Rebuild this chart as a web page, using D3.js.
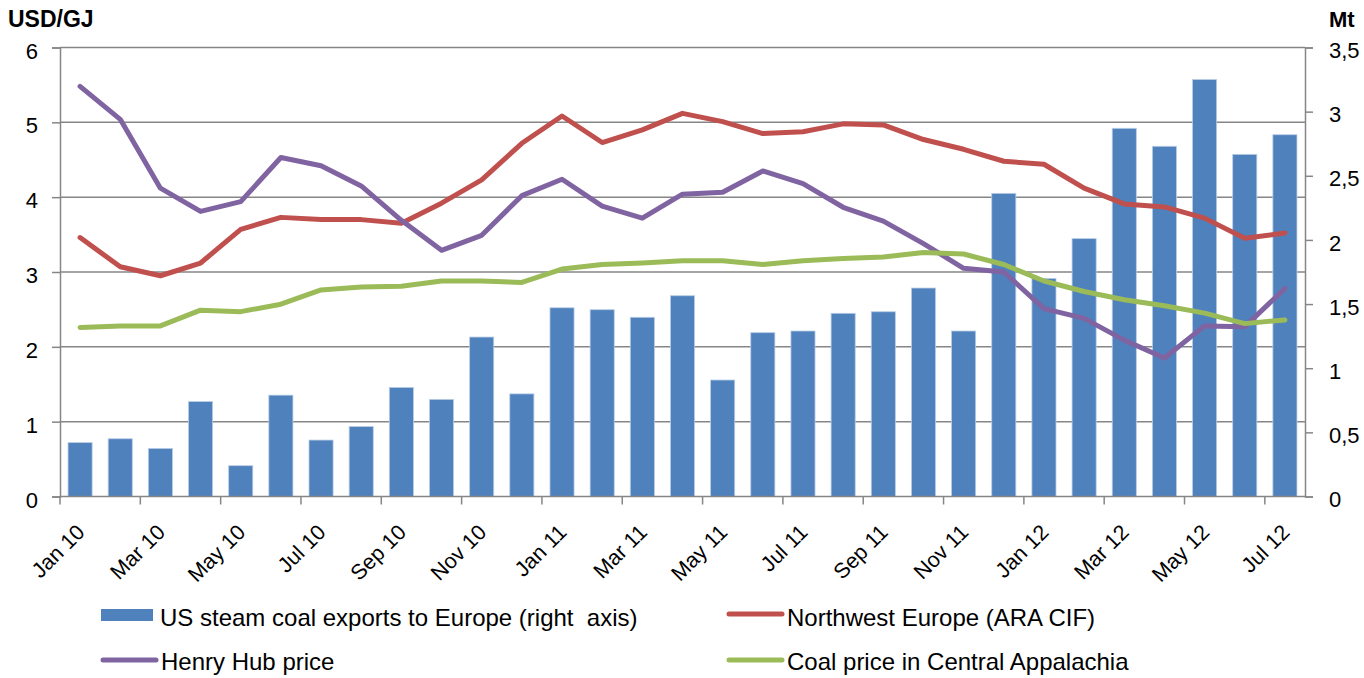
<!DOCTYPE html>
<html>
<head>
<meta charset="utf-8">
<script src="https://cdn.jsdelivr.net/npm/d3@7"></script>
<style>
  body { margin: 0; background: #fff; }
  text { font-family: "Liberation Sans", Arial, sans-serif; fill: #000; }
</style>
</head>
<body>
<svg id="chart" width="1364" height="678"></svg>
<script>
const months = ["Jan 10","Feb 10","Mar 10","Apr 10","May 10","Jun 10","Jul 10","Aug 10","Sep 10","Oct 10","Nov 10","Dec 10",
  "Jan 11","Feb 11","Mar 11","Apr 11","May 11","Jun 11","Jul 11","Aug 11","Sep 11","Oct 11","Nov 11","Dec 11",
  "Jan 12","Feb 12","Mar 12","Apr 12","May 12","Jun 12","Jul 12"];

// Mt, right axis
const exportsEurope = [0.42,0.45,0.375,0.74,0.24,0.79,0.44,0.545,0.85,0.757,1.243,0.80,
  1.471,1.456,1.397,1.565,0.908,1.277,1.29,1.428,1.44,1.625,1.29,2.363,
  1.70,2.01,2.87,2.73,3.25,2.667,2.82];

// USD/GJ, left axis
const nweAra = [3.46,3.07,2.95,3.12,3.57,3.73,3.70,3.70,3.65,3.92,4.23,4.72,
  5.085,4.73,4.90,5.12,5.01,4.85,4.875,4.98,4.965,4.77,4.64,4.48,
  4.44,4.12,3.91,3.87,3.72,3.45,3.52];
const henryHub = [5.48,5.04,4.12,3.81,3.94,4.53,4.42,4.15,3.69,3.29,3.49,4.02,
  4.24,3.88,3.72,4.04,4.065,4.35,4.18,3.865,3.68,3.38,3.05,3.00,
  2.51,2.38,2.09,1.85,2.28,2.27,2.78];
const coalAppalachia = [2.26,2.28,2.28,2.49,2.47,2.57,2.76,2.80,2.81,2.88,2.88,2.86,
  3.04,3.10,3.12,3.15,3.15,3.10,3.15,3.18,3.20,3.26,3.24,3.10,
  2.88,2.74,2.63,2.55,2.45,2.31,2.36];

const leftTicks = [0,1,2,3,4,5,6];
const rightTicks = [0,0.5,1,1.5,2,2.5,3,3.5];

const svg = d3.select("#chart");
const plotLeft = 60, plotRight = 1305, plotTop = 47.5, plotBottom = 496.5;

const x = d3.scaleBand().domain(months).range([plotLeft, plotRight]).paddingInner(0.4).paddingOuter(0.2);
const yL = d3.scaleLinear().domain([0, 6]).range([plotBottom, plotTop]);
const yR = d3.scaleLinear().domain([0, 3.5]).range([plotBottom, plotTop]);
const cx = (m) => x(m) + x.bandwidth() / 2;

const grey = "#868686";

// gridlines
svg.append("g")
  .selectAll("line")
  .data(leftTicks.filter((d) => d > 0))
  .join("line")
  .attr("x1", plotLeft).attr("x2", plotRight)
  .attr("y1", (d) => yL(d)).attr("y2", (d) => yL(d))
  .attr("stroke", grey).attr("stroke-width", 1.5);

// bars
svg.append("g")
  .selectAll("rect")
  .data(months.map((m, i) => ({ m: m, v: exportsEurope[i] })))
  .join("rect")
  .attr("x", (d) => x(d.m))
  .attr("width", x.bandwidth())
  .attr("y", (d) => yR(d.v))
  .attr("height", (d) => yR(0) - yR(d.v))
  .attr("fill", "#4F81BD")
  .attr("stroke", "#b9cde5")
  .attr("stroke-width", 0.8);

// axes
const yAxisL = d3.axisLeft(yL).tickValues(leftTicks).tickSize(8).tickPadding(14).tickFormat(d3.format("d"));
const gl = svg.append("g").attr("transform", `translate(${plotLeft},0)`).call(yAxisL);
gl.select(".domain").attr("stroke", grey).attr("stroke-width", 1.5);
gl.selectAll(".tick line").attr("stroke", grey).attr("stroke-width", 1.5);
gl.selectAll(".tick text").style("font-size", "22px").attr("fill", "#000").attr("dy", "0.48em");

const yAxisR = d3.axisRight(yR).tickValues(rightTicks).tickSize(8).tickPadding(16)
  .tickFormat((d) => String(d).replace(".", ","));
const gr = svg.append("g").attr("transform", `translate(${plotRight},0)`).call(yAxisR);
gr.select(".domain").attr("stroke", grey).attr("stroke-width", 1.5);
gr.selectAll(".tick line").attr("stroke", grey).attr("stroke-width", 1.5);
gr.selectAll(".tick text").style("font-size", "22px").attr("fill", "#000").attr("dy", "0.46em");

// x axis
svg.append("line")
  .attr("x1", plotLeft).attr("x2", plotRight).attr("y1", plotBottom).attr("y2", plotBottom)
  .attr("stroke", grey).attr("stroke-width", 1.5);
const tickMonths = months.filter((d, i) => i % 2 === 0);
svg.append("g")
  .selectAll("line")
  .data(tickMonths)
  .join("line")
  .attr("x1", (d) => x(d) - x.step() * x.paddingInner() / 2)
  .attr("x2", (d) => x(d) - x.step() * x.paddingInner() / 2)
  .attr("y1", plotBottom).attr("y2", plotBottom + 8)
  .attr("stroke", grey).attr("stroke-width", 1.5);
svg.append("g")
  .selectAll("text")
  .data(tickMonths)
  .join("text")
  .attr("transform", (d) => `translate(${cx(d) + 6},${plotBottom + 37}) rotate(-45)`)
  .attr("text-anchor", "end")
  .style("font-size", "21.5px")
  .text((d) => d);

// lines
const series = [
  { name: "Northwest Europe (ARA CIF)", values: nweAra, color: "#C0504D" },
  { name: "Henry Hub price", values: henryHub, color: "#8064A2" },
  { name: "Coal price in Central Appalachia", values: coalAppalachia, color: "#9BBB59" },
];
const line = d3.line().x((d) => cx(d.m)).y((d) => yL(d.v));
svg.append("g")
  .selectAll("path")
  .data(series)
  .join("path")
  .attr("d", (s) => line(months.map((m, i) => ({ m: m, v: s.values[i] }))))
  .attr("fill", "none")
  .attr("stroke", (s) => s.color)
  .attr("stroke-width", 5)
  .attr("stroke-linejoin", "round")
  .attr("stroke-linecap", "round");

// axis titles
svg.append("text").attr("x", 8).attr("y", 27).style("font-size", "23px").style("font-weight", "bold").text("USD/GJ");
svg.append("text").attr("x", 1329).attr("y", 27).style("font-size", "22px").style("font-weight", "bold").text("Mt");

// legend
const lg = svg.append("g");
lg.append("rect").attr("x", 101).attr("y", 609).attr("width", 52).attr("height", 12).attr("fill", "#4F81BD");
lg.append("text").attr("x", 160).attr("y", 626).style("font-size", "24px").style("white-space", "pre")
  .text("US steam coal exports to Europe (right  axis)");
const legendLines = [
  { s: series[0], x: 729, y: 614, ty: 626 },
  { s: series[1], x: 103, y: 660, ty: 670 },
  { s: series[2], x: 729, y: 660, ty: 670 },
];
legendLines.forEach((d) => {
  lg.append("line").attr("x1", d.x).attr("x2", d.x + 53).attr("y1", d.y).attr("y2", d.y)
    .attr("stroke", d.s.color).attr("stroke-width", 5).attr("stroke-linecap", "round");
  lg.append("text").attr("x", d.x + 58).attr("y", d.ty).style("font-size", "24px").text(d.s.name);
});
</script>
</body>
</html>
